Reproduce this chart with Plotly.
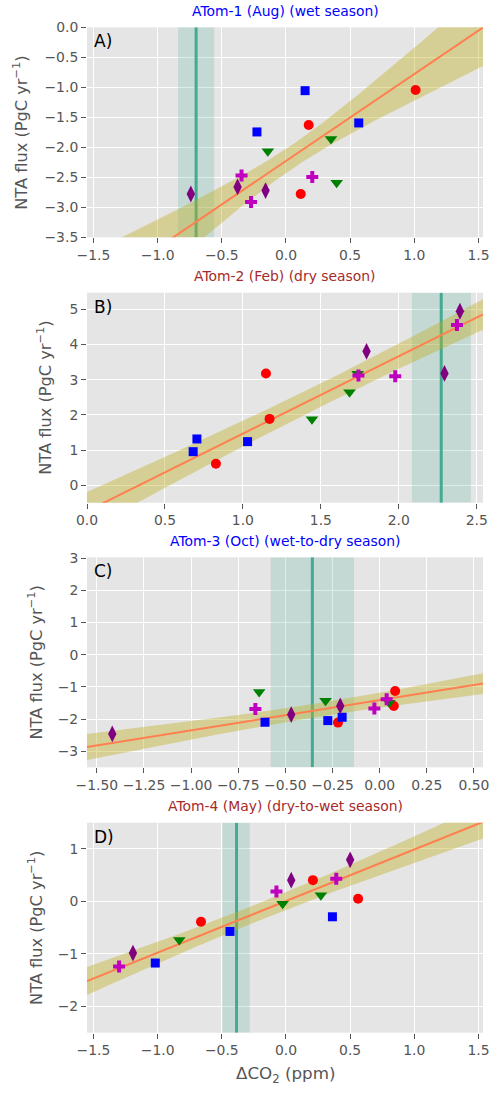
import numpy as np
import plotly.graph_objects as go

# Each panel: 15 points, 3 per series, in the order
# red circles, blue squares, green triangles, magenta crosses, purple diamonds.
# x = ΔCO2 (ppm), y = NTA flux (PgC/yr)
atom1_dco2 = [1.010, 0.177, 0.115, 0.149, -0.226, 0.567, -0.141, 0.351, 0.395,
              -0.346, 0.205, -0.272, -0.741, -0.377, -0.159]
atom1_flux = [-1.044, -1.628, -2.778, -1.056, -1.744, -1.594, -2.067, -1.861, -2.589,
              -2.472, -2.494, -2.911, -2.778, -2.661, -2.722]

atom2_dco2 = [1.148, 1.171, 0.827, 0.705, 0.681, 1.030, 1.736, 1.684, 1.443,
              1.741, 1.977, 2.373, 1.793, 2.293, 2.392]
atom2_flux = [3.178, 1.888, 0.617, 1.319, 0.958, 1.243, 3.169, 2.647, 1.879,
              3.121, 3.102, 4.554, 3.805, 3.178, 4.943]

atom3_dco2 = [-0.221, 0.082, 0.075, -0.608, -0.275, -0.199, -0.639, -0.287, 0.051,
              -0.659, -0.028, 0.037, -1.418, -0.469, -0.209]
atom3_flux = [-2.110, -1.127, -1.593, -2.099, -2.048, -1.944, -1.158, -1.427, -1.489,
              -1.686, -1.675, -1.386, -2.461, -1.861, -1.593]

atom4_dco2 = [-0.662, 0.210, 0.562, -1.018, -0.436, 0.362, -0.831, -0.026, 0.272,
              -1.300, -0.074, 0.392, -1.192, 0.041, 0.500]
atom4_flux = [-0.387, 0.406, 0.051, -1.173, -0.571, -0.292, -0.736, -0.044, 0.120,
              -1.237, 0.190, 0.431, -0.983, 0.406, 0.793]

# Observed ΔCO2 (centre and uncertainty range) per campaign
obs_center = [-0.700, 2.272, -0.357, -0.385]
obs_low = [-0.841, 2.084, -0.578, -0.495]
obs_high = [-0.559, 2.462, -0.136, -0.282]

# Fit uncertainty: half-width at the mean ΔCO2 and its growth away from it
ci_center = [0.20, 0.33, 0.21, 0.165]
ci_growth = [0.41, 0.28, 0.28, 0.155]

titles = ["ATom-1 (Aug) (wet season)", "ATom-2 (Feb) (dry season)",
          "ATom-3 (Oct) (wet-to-dry season)", "ATom-4 (May) (dry-to-wet season)"]
panel_tags = ["A)", "B)", "C)", "D)"]

panels_x = [atom1_dco2, atom2_dco2, atom3_dco2, atom4_dco2]
panels_y = [atom1_flux, atom2_flux, atom3_flux, atom4_flux]

# ---- styling / layout ----
W, H = 501, 1095
ML, MR, MT, MB = 86.7, 11.5, 27.0, 62.0
plot_h = H - MT - MB
panel_tops = [27.3, 292.7, 557.3, 822.7]
panel_height = 210.0

x_ranges = [[-1.55, 1.535], [0.0, 2.54], [-1.552, 0.548], [-1.55, 1.535]]
y_ranges = [[-3.5, 0.0], [-0.49, 5.47], [-3.5, 3.03], [-2.5, 1.5]]
x_ticks = [(-1.5, 0.5, ".1f"), (0.0, 0.5, ".1f"), (-1.5, 0.25, ".2f"), (-1.5, 0.5, ".1f")]
y_ticks = [(-3.5, 0.5, ".1f"), (0, 1, "d"), (-3, 1, "d"), (-2, 1, "d")]
title_colors = ["#0000ff", "#a52a2a", "#0000ff", "#a52a2a"]
ylabel_px = [19, 43, 34, 34]

series_style = [
    ("circle", "#ff0000", 10),
    ("square", "#0000ff", 9),
    ("triangle-down", "#008000", 11),
    ("cross", "#bf00bf", 10),
    ("diamond-tall", "#800080", 12),
]

FONT = "DejaVu Sans"
GREY = "#555555"
BG = "#e5e5e5"
TEAL = "rgb(68,170,146)"

fig = go.Figure()
layout = dict(
    width=W, height=H,
    margin=dict(l=ML, r=MR, t=MT, b=MB, pad=0),
    paper_bgcolor="white",
    plot_bgcolor=BG,
    showlegend=False,
    font=dict(family=FONT, size=13.9, color=GREY),
)
annotations = []

for i in range(4):
    n = "" if i == 0 else str(i + 1)
    xa, ya = "x" + n, "y" + n
    top = panel_tops[i]
    bot = top + panel_height
    d0 = (H - MB - bot) / plot_h
    d1 = (H - MB - top) / plot_h

    t0, dt, fx = x_ticks[i]
    layout["xaxis" + n] = dict(
        domain=[0, 1], anchor=ya, range=x_ranges[i],
        tick0=t0, dtick=dt, tickformat=fx,
        showgrid=True, gridcolor="white", gridwidth=1.4, zeroline=False,
        ticks="outside", ticklen=5, tickwidth=1, tickcolor=GREY,
        tickfont=dict(family=FONT, size=13.9, color=GREY),
        showline=False,
    )
    t0, dt, fy = y_ticks[i]
    layout["yaxis" + n] = dict(
        domain=[d0, d1], anchor=xa, range=y_ranges[i],
        tick0=t0, dtick=dt, tickformat=fy,
        showgrid=True, gridcolor="white", gridwidth=1.4, zeroline=False,
        ticks="outside", ticklen=5, tickwidth=1, tickcolor=GREY,
        tickfont=dict(family=FONT, size=13.9, color=GREY),
        showline=False,
    )

    x = np.asarray(panels_x[i], dtype=float)
    y = np.asarray(panels_y[i], dtype=float)
    y_lo, y_hi = y_ranges[i]

    # observed ΔCO2 range (shaded) and centre (vertical line)
    fig.add_trace(go.Scatter(
        x=[obs_low[i], obs_high[i], obs_high[i], obs_low[i]],
        y=[y_lo, y_lo, y_hi, y_hi],
        mode="lines", fill="toself", fillcolor="rgba(68,170,146,0.20)",
        line=dict(width=0), hoverinfo="skip", xaxis=xa, yaxis=ya))
    fig.add_trace(go.Scatter(
        x=[obs_center[i], obs_center[i]], y=[y_lo, y_hi],
        mode="lines", line=dict(color=TEAL, width=3),
        hoverinfo="skip", xaxis=xa, yaxis=ya))

    # reduced major axis fit
    xm, ym = x.mean(), y.mean()
    r = np.corrcoef(x, y)[0, 1]
    slope = np.sign(r) * y.std() / x.std()
    intercept = ym - slope * xm
    xs = np.linspace(x_ranges[i][0], x_ranges[i][1], 200)
    fit = intercept + slope * xs
    hw = np.sqrt(ci_center[i] ** 2 + (ci_growth[i] * (xs - xm)) ** 2)

    fig.add_trace(go.Scatter(
        x=np.concatenate([xs, xs[::-1]]),
        y=np.concatenate([fit + hw, (fit - hw)[::-1]]),
        mode="lines", fill="toself", fillcolor="rgba(190,175,30,0.40)",
        line=dict(width=0), hoverinfo="skip", xaxis=xa, yaxis=ya))
    fig.add_trace(go.Scatter(
        x=xs, y=fit, mode="lines", line=dict(color="#ff7f50", width=2),
        hoverinfo="skip", xaxis=xa, yaxis=ya))

    for k, (sym, col, sz) in enumerate(series_style):
        fig.add_trace(go.Scatter(
            x=x[3 * k:3 * k + 3], y=y[3 * k:3 * k + 3], mode="markers",
            marker=dict(symbol=sym, color=col, size=sz, line=dict(width=0)),
            xaxis=xa, yaxis=ya, cliponaxis=False))

    # panel title
    annotations.append(dict(
        text=titles[i], xref=xa + " domain", yref=ya + " domain",
        x=0.5, y=1, xanchor="center", yanchor="middle", yshift=16.5,
        showarrow=False, font=dict(family=FONT, size=13.9, color=title_colors[i])))
    # panel tag
    annotations.append(dict(
        text=panel_tags[i], xref=xa + " domain", yref=ya + " domain",
        x=0.012, y=1, xanchor="left", yanchor="middle", yshift=-14,
        showarrow=False, font=dict(family=FONT, size=17, color="black")))
    # y axis label
    annotations.append(dict(
        text="NTA flux (PgC yr<sup>−1</sup>)", xref=xa + " domain", yref=ya + " domain",
        x=(ylabel_px[i] - ML) / (W - ML - MR), y=0.5,
        xanchor="center", yanchor="middle", textangle=-90,
        showarrow=False, font=dict(family=FONT, size=16.2, color=GREY)))

annotations.append(dict(
    text="ΔCO<sub>2</sub> (ppm)", xref="x4 domain", yref="y4 domain",
    x=0.5, y=0, xanchor="center", yanchor="middle", yshift=-42,
    showarrow=False, font=dict(family=FONT, size=16.7, color=GREY)))

layout["annotations"] = annotations
fig.update_layout(**layout)

fig.write_html("out.html")
